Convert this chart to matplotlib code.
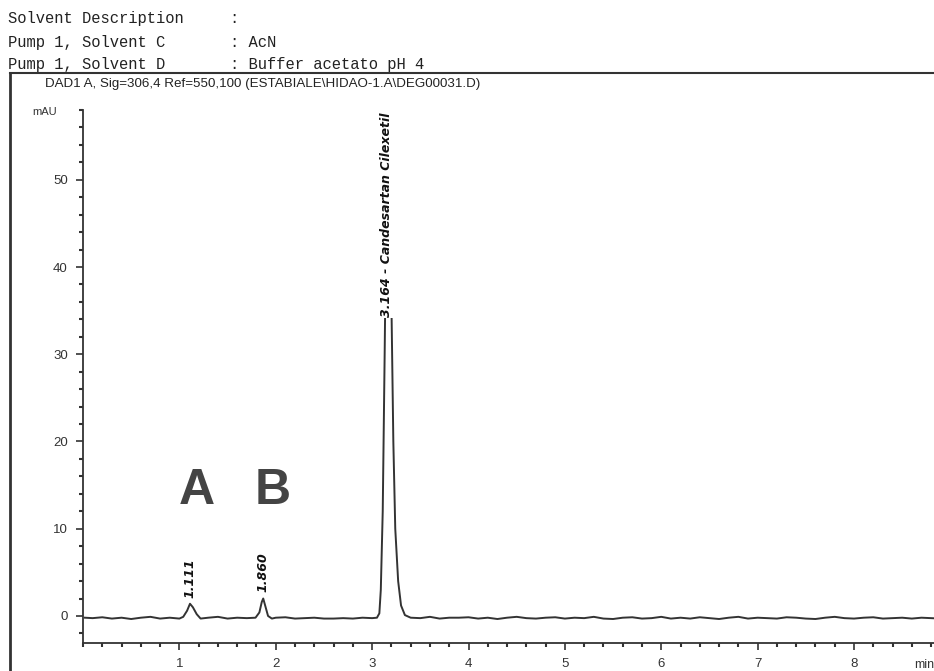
import matplotlib
matplotlib.use("Agg")
import matplotlib.pyplot as plt
from matplotlib.ticker import MultipleLocator
from matplotlib.lines import Line2D

# header lines above the chromatogram
header_lines = ["Solvent Description     :",
                "Pump 1, Solvent C       : AcN",
                "Pump 1, Solvent D       : Buffer acetato pH 4"]
signal_title = "DAD1 A, Sig=306,4 Ref=550,100 (ESTABIALE\\HIDAO-1.A\\DEG00031.D)"

# trace (min, mAU)
trace_time = [0.02, 0.1, 0.2, 0.3, 0.4, 0.5, 0.6, 0.7, 0.8, 0.9, 1.0,
              1.04, 1.08, 1.11, 1.14, 1.18, 1.22, 1.3, 1.4, 1.5, 1.6, 1.7,
              1.79, 1.83, 1.855, 1.87, 1.89, 1.92, 1.96, 2.0, 2.1, 2.2, 2.3,
              2.4, 2.5, 2.6, 2.7, 2.8, 2.9, 3.0, 3.05, 3.075, 3.09, 3.11,
              3.13, 3.15, 3.164, 3.18, 3.20, 3.22, 3.24, 3.27, 3.30, 3.34,
              3.40, 3.5, 3.6, 3.7, 3.8, 3.9, 4.0, 4.1, 4.2, 4.3, 4.4, 4.5,
              4.6, 4.7, 4.8, 4.9, 5.0, 5.1, 5.2, 5.3, 5.4, 5.5, 5.6, 5.7,
              5.8, 5.9, 6.0, 6.1, 6.2, 6.3, 6.4, 6.5, 6.6, 6.7, 6.8, 6.9,
              7.0, 7.1, 7.2, 7.3, 7.4, 7.5, 7.6, 7.7, 7.8, 7.9, 8.0, 8.1,
              8.2, 8.3, 8.4, 8.5, 8.6, 8.7, 8.8, 8.9]
trace_mau = [-0.2, -0.25, -0.15, -0.3, -0.2, -0.35, -0.2, -0.1, -0.3, -0.2, -0.3,
             -0.1, 0.6, 1.4, 1.0, 0.2, -0.3, -0.2, -0.1, -0.3, -0.2, -0.25,
             -0.2, 0.4, 1.6, 2.0, 1.2, 0.0, -0.3, -0.2, -0.15, -0.3, -0.25,
             -0.2, -0.3, -0.3, -0.25, -0.3, -0.2, -0.25, -0.2, 0.3, 3.0, 12.0,
             30.0, 50.0, 57.0, 51.0, 36.0, 20.0, 10.0, 4.0, 1.2, 0.1,
             -0.2, -0.25, -0.1, -0.3, -0.2, -0.2, -0.15, -0.3, -0.2, -0.35, -0.2, -0.1,
             -0.25, -0.3, -0.2, -0.15, -0.3, -0.2, -0.25, -0.1, -0.3, -0.35, -0.2, -0.15,
             -0.3, -0.25, -0.1, -0.3, -0.2, -0.3, -0.15, -0.25, -0.35, -0.2, -0.1, -0.3,
             -0.2, -0.25, -0.3, -0.15, -0.2, -0.3, -0.35, -0.2, -0.1, -0.25, -0.3, -0.2,
             -0.15, -0.3, -0.25, -0.2, -0.3, -0.2, -0.25, -0.3]

# peak annotations
peak_rt = [1.111, 1.87, 3.164]
peak_top = [1.4, 2.0, 57.0]
peak_text = ["1.111", "1.860", "3.164 - Candesartan Cilexetil"]

letters = ["A", "B"]
letter_x = [1.18, 1.97]
letter_y = [14.3, 14.3]

plt.rcParams['font.family'] = ['Liberation Sans', 'DejaVu Sans']

fig = plt.figure(figsize=(9.34, 6.71), dpi=100)
W, H = 934, 671

# header text
for i, s in enumerate(header_lines):
    fig.text(8 / W, 1 - (19 + i * 23) / H, s, family='Liberation Mono',
             fontsize=11.2, va='center', ha='left', color='#222222')

# outer frame (only top and left visible)
fig.add_artist(Line2D([10 / W, 10 / W], [0, 1 - 73 / H], transform=fig.transFigure,
                      color='#333333', lw=2.0))
fig.add_artist(Line2D([10 / W, 1], [1 - 73 / H, 1 - 73 / H], transform=fig.transFigure,
                      color='#333333', lw=1.5))
fig.text(45 / W, 1 - 84 / H, signal_title, fontsize=9.6, va='center', ha='left',
         color='#222222')

ax = fig.add_axes([83 / W, 28 / H, 1 - 83 / W, (643 - 110) / H])
ax.plot(trace_time, trace_mau, color='#333333', lw=1.4)

ax.set_xlim(0.0, 8.83)
ax.set_ylim(-3.1, 58.0)
ax.spines['top'].set_visible(False)
ax.spines['right'].set_visible(False)
ax.spines['left'].set_color('#333333')
ax.spines['bottom'].set_color('#333333')
ax.spines['left'].set_linewidth(1.3)
ax.spines['bottom'].set_linewidth(1.3)

ax.set_xticks([1, 2, 3, 4, 5, 6, 7, 8])
ax.set_yticks([0, 10, 20, 30, 40, 50])
ax.xaxis.set_minor_locator(MultipleLocator(0.2))
ax.yaxis.set_minor_locator(MultipleLocator(2))
ax.tick_params(which='major', direction='out', length=5, width=1.2, labelsize=9.5,
               colors='#333333', pad=6)
ax.tick_params(which='minor', direction='out', length=3, width=1.5, colors='#333333')

ax.text(-0.27, 57.8, "mAU", fontsize=8, ha='right', va='center', color='#333333')
ax.text(8.83, -4.9, "min", fontsize=9, ha='right', va='top', color='#333333',
        clip_on=False)

# peak labels
for i in range(len(peak_rt)):
    if i == 2:
        ax.text(peak_rt[i] - 0.02, 57.7, peak_text[i], rotation=90, ha='center', va='top',
                fontsize=9, fontweight='bold', style='italic', family='DejaVu Sans',
                color='#111111', bbox=dict(facecolor='white', edgecolor='none', pad=0.5))
    else:
        ax.text(peak_rt[i], peak_top[i] + 0.7, peak_text[i], rotation=90, ha='center',
                va='bottom', fontsize=9, fontweight='bold', style='italic',
                family='DejaVu Sans', color='#111111')

for i in range(len(letters)):
    ax.text(letter_x[i], letter_y[i], letters[i], fontsize=36, fontweight='bold',
            family='Liberation Sans', ha='center', va='center', color='#444444')

fig.savefig("out.png", dpi=100)
